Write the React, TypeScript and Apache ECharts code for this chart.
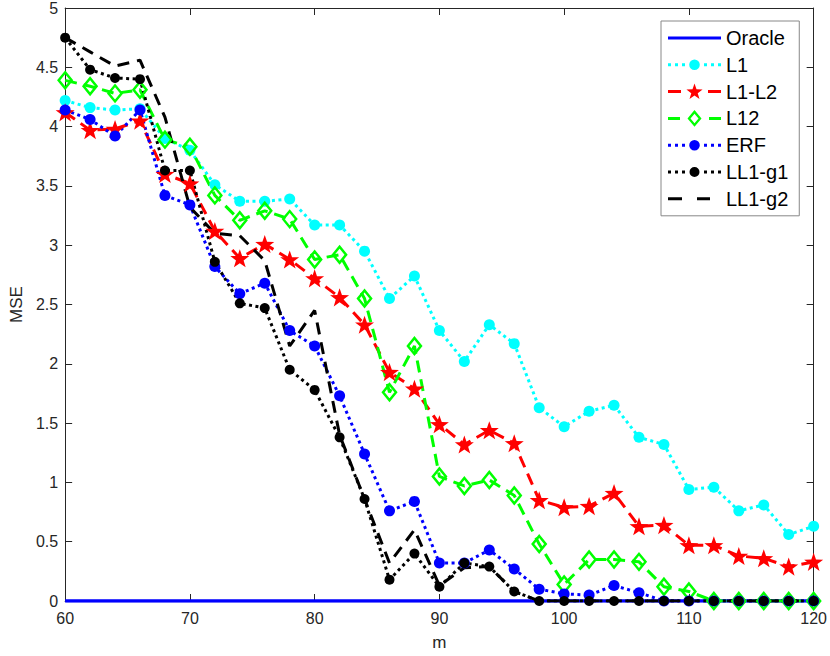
import React, { useEffect, useRef } from "react";
import * as echarts from "echarts";

// ---- data ----
const mValues = [60, 62, 64, 66, 68, 70, 72, 74, 76, 78, 80, 82, 84, 86, 88, 90, 92, 94, 96, 98, 100, 102, 104, 106, 108, 110, 112, 114, 116, 118, 120];
const oracleValues = [0, 0, 0, 0, 0, 0, 0, 0, 0, 0, 0, 0, 0, 0, 0, 0, 0, 0, 0, 0, 0, 0, 0, 0, 0, 0, 0, 0, 0, 0, 0];
const l1Values = [4.22, 4.16, 4.14, 4.15, 3.9, 3.8, 3.51, 3.37, 3.37, 3.39, 3.17, 3.17, 2.95, 2.55, 2.74, 2.28, 2.02, 2.33, 2.17, 1.63, 1.47, 1.6, 1.65, 1.38, 1.32, 0.94, 0.96, 0.76, 0.81, 0.56, 0.63];
const l1l2Values = [4.12, 3.97, 3.98, 4.05, 3.6, 3.52, 3.12, 2.89, 3.01, 2.88, 2.72, 2.56, 2.33, 1.93, 1.79, 1.49, 1.32, 1.44, 1.33, 0.85, 0.79, 0.8, 0.91, 0.63, 0.64, 0.47, 0.47, 0.38, 0.36, 0.29, 0.33];
const l12Values = [4.39, 4.34, 4.28, 4.31, 3.89, 3.83, 3.42, 3.21, 3.29, 3.22, 2.88, 2.92, 2.55, 1.76, 2.15, 1.05, 0.97, 1.02, 0.89, 0.48, 0.14, 0.35, 0.35, 0.33, 0.12, 0.08, 0, 0, 0, 0, 0];
const erfValues = [4.14, 4.06, 3.92, 4.14, 3.42, 3.34, 2.82, 2.59, 2.68, 2.28, 2.15, 1.73, 1.24, 0.76, 0.84, 0.32, 0.32, 0.43, 0.27, 0.1, 0.06, 0.05, 0.13, 0.07, 0, 0, 0, 0, 0, 0, 0];
const ll1g1Values = [4.75, 4.48, 4.41, 4.4, 3.63, 3.63, 2.86, 2.51, 2.47, 1.95, 1.78, 1.38, 0.86, 0.18, 0.4, 0.12, 0.32, 0.29, 0.08, 0, 0, 0, 0, 0, 0, 0, 0, 0, 0, 0, 0];
const ll1g2Values = [4.75, 4.63, 4.51, 4.56, 4.08, 3.32, 3.1, 3.08, 2.87, 2.15, 2.45, 1.4, 0.86, 0.32, 0.6, 0.13, 0.28, 0.29, 0.08, 0, 0, 0, 0, 0, 0, 0, 0, 0, 0, 0, 0];

const seriesNames = ["Oracle", "L1", "L1-L2", "L12", "ERF", "LL1-g1", "LL1-g2"];
const xAxisRange = { min: 60, max: 120, interval: 10 };
const yAxisRange = { min: 0, max: 5, interval: 0.5 };
const xAxisTitle = "m";
const yAxisTitle = "MSE";

// ---- styling helpers ----
const FONT = "'Liberation Sans', Arial, Helvetica, sans-serif";
const AXIS_COLOR = "#262626";

const STAR_SYMBOL =
  "path://M0,-10L2.35,-3.24L9.51,-3.09L3.8,1.24L5.88,8.09L0,4L-5.88,8.09L-3.8,1.24L-9.51,-3.09L-2.35,-3.24Z";

// legend icons drawn in a 53 x 20 box
const anchors = "M0 0h0.01v0.01h-0.01Z M53 20h-0.01v-0.01h0.01Z ";
const seg = (x0: number, x1: number) => `M${x0} 8.5H${x1}V11.5H${x0}Z `;
const dots = [0, 7, 14, 36, 43, 50].map((x) => seg(x, x + 3)).join("");
const circ = (r: number) =>
  `M${26.5 - r} 10A${r} ${r} 0 1 0 ${26.5 + r} 10A${r} ${r} 0 1 0 ${26.5 - r} 10Z `;
const starIcon = () => {
  const R = 8.5;
  const r = 3.4;
  let d = "";
  for (let i = 0; i < 10; i++) {
    const ang = -Math.PI / 2 + (i * Math.PI) / 5;
    const rad = i % 2 === 0 ? R : r;
    const x = 26.5 + rad * Math.cos(ang);
    const y = 10.5 + rad * Math.sin(ang);
    d += `${i === 0 ? "M" : "L"}${x.toFixed(2)} ${y.toFixed(2)}`;
  }
  return d + "Z ";
};
const hollowDiamond =
  "M26.5 1.7L33.5 10L26.5 18.3L19.5 10Z M26.5 5.27L22.5 10L26.5 14.73L30.5 10Z ";

const legendIcons: Record<string, { d: string; color: string }> = {
  Oracle: { d: seg(0, 53), color: "#0000ff" },
  L1: { d: dots + circ(5.3), color: "#00ffff" },
  "L1-L2": { d: seg(0, 13) + seg(40, 53) + starIcon(), color: "#ff0000" },
  L12: { d: seg(0, 12) + seg(41, 53) + hollowDiamond, color: "#00ff00" },
  ERF: { d: dots + circ(5.3), color: "#0000ff" },
  "LL1-g1": { d: dots + circ(5), color: "#000000" },
  "LL1-g2": { d: seg(0, 14) + seg(29, 42), color: "#000000" },
};

const pairs = (vals: number[]) => mValues.map((m, i) => [m, vals[i]]);

export default function App() {
  const ref = useRef<HTMLDivElement>(null);

  useEffect(() => {
    document.body.style.margin = "0";
    if (!ref.current) return;
    const chart = echarts.init(ref.current, null, { renderer: "svg" });

    const dotted = [3, 3.5];
    const dashed = [12, 7];

    const baseSeries = {
      type: "line" as const,
      silent: true,
      emphasis: { disabled: true },
    };

    const series = [
      {
        ...baseSeries,
        name: seriesNames[0],
        data: pairs(oracleValues),
        symbol: "none",
        itemStyle: { color: "#0000ff" },
        lineStyle: { color: "#0000ff", width: 3.5, type: "solid" },
      },
      {
        ...baseSeries,
        name: seriesNames[1],
        data: pairs(l1Values),
        symbol: "circle",
        symbolSize: 11,
        itemStyle: { color: "#00ffff" },
        lineStyle: { color: "#00ffff", width: 3, type: dotted },
      },
      {
        ...baseSeries,
        name: seriesNames[2],
        data: pairs(l1l2Values),
        symbol: STAR_SYMBOL,
        symbolSize: 19,
        symbolKeepAspect: true,
        itemStyle: { color: "#ff0000" },
        lineStyle: { color: "#ff0000", width: 3, type: dashed },
      },
      {
        ...baseSeries,
        name: seriesNames[3],
        data: pairs(l12Values),
        symbol: "diamond",
        symbolSize: [13, 16],
        itemStyle: { color: "rgba(255,255,255,0)", borderColor: "#00ff00", borderWidth: 2.5 },
        lineStyle: { color: "#00ff00", width: 3, type: dashed },
      },
      {
        ...baseSeries,
        name: seriesNames[4],
        data: pairs(erfValues),
        symbol: "circle",
        symbolSize: 11,
        itemStyle: { color: "#0000ff" },
        lineStyle: { color: "#0000ff", width: 3, type: dotted },
      },
      {
        ...baseSeries,
        name: seriesNames[5],
        data: pairs(ll1g1Values),
        symbol: "circle",
        symbolSize: 10,
        itemStyle: { color: "#000000" },
        lineStyle: { color: "#000000", width: 3, type: dotted },
      },
      {
        ...baseSeries,
        name: seriesNames[6],
        data: pairs(ll1g2Values),
        symbol: "none",
        itemStyle: { color: "#000000" },
        lineStyle: { color: "#000000", width: 3, type: [12, 8] },
      },
    ];

    const axisLine = { show: true, onZero: false, lineStyle: { color: AXIS_COLOR, width: 1 } };
    const axisTick = { show: true, inside: true, length: 7, lineStyle: { color: AXIS_COLOR, width: 1 } };

    chart.setOption({
      animation: false,
      textStyle: { fontFamily: FONT },
      grid: { left: 57, right: 15, top: 7, bottom: 51, containLabel: false },
      xAxis: [
        {
          type: "value",
          position: "bottom",
          ...xAxisRange,
          name: xAxisTitle,
          nameLocation: "middle",
          nameGap: 33,
          nameTextStyle: { fontSize: 17, color: AXIS_COLOR, fontFamily: FONT },
          axisLine,
          axisTick,
          axisLabel: { fontSize: 16, color: AXIS_COLOR, margin: 9, fontFamily: FONT },
          splitLine: { show: false },
        },
        {
          type: "value",
          position: "top",
          ...xAxisRange,
          axisLine,
          axisTick,
          axisLabel: { show: false },
          splitLine: { show: false },
        },
      ],
      yAxis: [
        {
          type: "value",
          position: "left",
          ...yAxisRange,
          name: yAxisTitle,
          nameLocation: "middle",
          nameRotate: 90,
          nameGap: 40,
          nameTextStyle: { fontSize: 17, color: AXIS_COLOR, fontFamily: FONT },
          axisLine,
          axisTick,
          axisLabel: { fontSize: 16, color: AXIS_COLOR, margin: 7, fontFamily: FONT },
          splitLine: { show: false },
        },
        {
          type: "value",
          position: "right",
          ...yAxisRange,
          axisLine,
          axisTick,
          axisLabel: { show: false },
          splitLine: { show: false },
        },
      ],
      legend: {
        orient: "vertical",
        left: 661,
        top: 21,
        padding: [7, 11, 7, 7],
        itemWidth: 53,
        itemHeight: 20,
        itemGap: 6.8,
        selectedMode: false,
        backgroundColor: "#ffffff",
        borderColor: "#888888",
        borderWidth: 1,
        textStyle: { fontSize: 20, color: "#000000", fontFamily: FONT },
        data: seriesNames.map((name) => ({
          name,
          icon: "path://" + anchors + legendIcons[name].d,
          itemStyle: { color: legendIcons[name].color, borderWidth: 0 },
        })),
      },
      series,
    });

    return () => {
      chart.dispose();
    };
  }, []);

  return <div ref={ref} style={{ width: 830, height: 656 }} />;
}
